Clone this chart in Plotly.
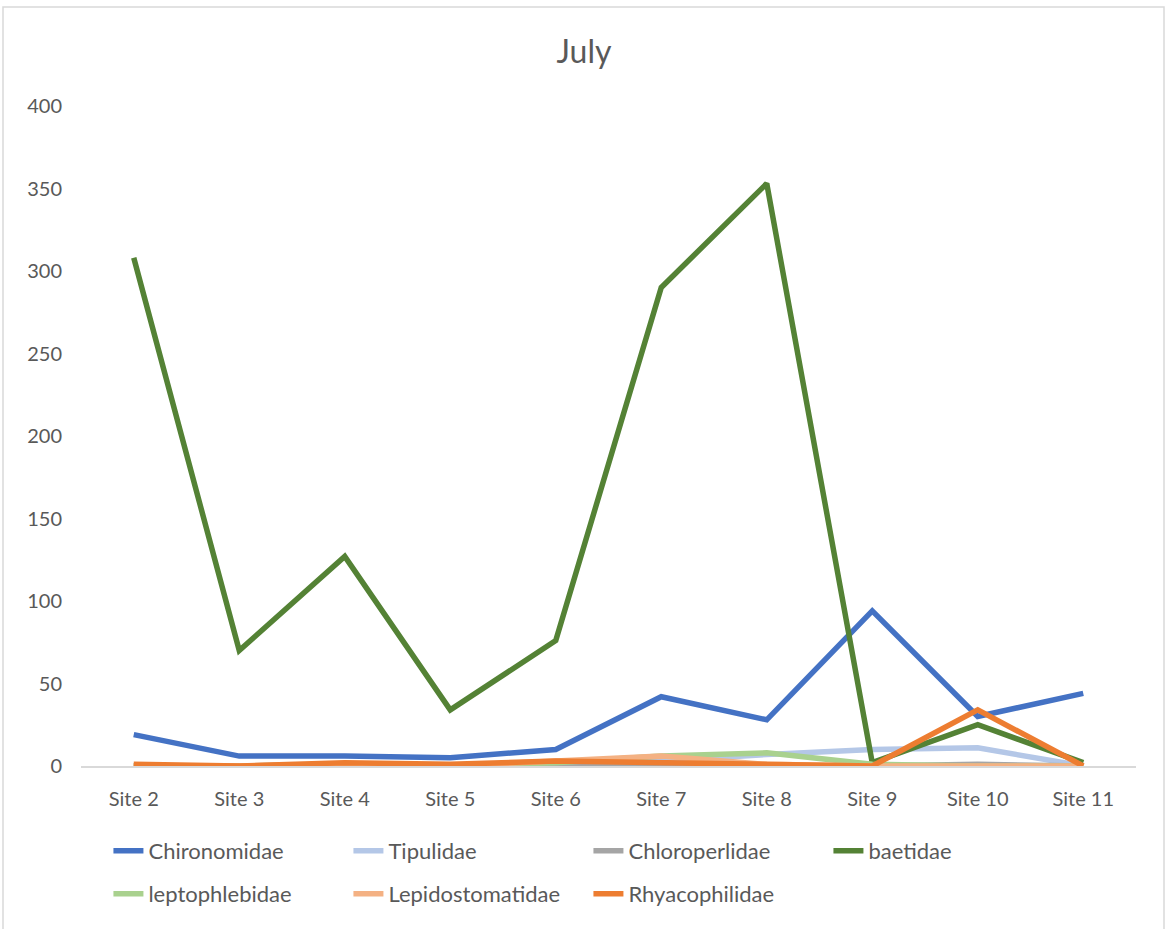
import plotly.graph_objects as go

sites = ["Site 2", "Site 3", "Site 4", "Site 5", "Site 6", "Site 7", "Site 8", "Site 9", "Site 10", "Site 11"]

chironomidae = [19, 6, 6, 5, 10, 42, 28, 94, 30, 44]
tipulidae = [0, 0, 1, 0, 1, 3, 7, 10, 11, 0]
chloroperlidae = [0, 0, 0, 0, 0, 0, 0, 0, 1, 0]
baetidae = [308, 70, 127, 34, 76, 290, 353, 2, 25, 2]
leptophlebidae = [0, 0, 1, 0, 2, 6, 8, 1, 0, 0]
lepidostomatidae = [0, 0, 1, 0, 3, 6, 1, 0, 0, 0]
rhyacophilidae = [1, 0, 2, 1, 3, 2, 1, 0, 34, 0]

series = [
    ("Chironomidae", chironomidae, "#4472C4", "legend"),
    ("Tipulidae", tipulidae, "#B4C7E7", "legend"),
    ("Chloroperlidae", chloroperlidae, "#A5A5A5", "legend"),
    ("baetidae", baetidae, "#548235", "legend"),
    ("leptophlebidae", leptophlebidae, "#A9D18E", "legend2"),
    ("Lepidostomatidae", lepidostomatidae, "#F4B183", "legend2"),
    ("Rhyacophilidae", rhyacophilidae, "#ED7D31", "legend2"),
]

fig = go.Figure()
for name, vals, col, lg in series:
    fig.add_trace(go.Scatter(x=sites, y=vals, name=name, mode="lines", legend=lg,
                             line=dict(color=col, width=5.5)))

font = "Lato, Open Sans, sans-serif"
leg_common = dict(orientation="h", x=0.026, xanchor="left", yanchor="middle",
                  entrywidth=195, entrywidthmode="pixels",
                  font=dict(family=font, size=22, color="#595959"),
                  traceorder="normal", bgcolor="rgba(0,0,0,0)")
fig.update_layout(
    width=1168, height=929,
    margin=dict(l=81, r=32, t=106, b=163),
    paper_bgcolor="white", plot_bgcolor="white",
    font=dict(family=font, size=20, color="#595959"),
    title=dict(text="July", x=0.5, xanchor="center", y=0.944, yanchor="middle",
               font=dict(family=font, size=32, color="#595959")),
    xaxis=dict(range=[-0.5, 9.5], showgrid=False, showline=True, linecolor="#D9D9D9",
               linewidth=1.5, ticks="", ticklabelstandoff=14,
               tickfont=dict(size=20, color="#595959"), zeroline=False),
    yaxis=dict(range=[0, 400], dtick=50, showgrid=False, showline=False, zeroline=False,
               ticks="", ticklabelstandoff=18, tickfont=dict(size=20, color="#595959")),
    legend=dict(y=(766 - 851) / 660, **leg_common),
    legend2=dict(y=(766 - 894) / 660, **leg_common),
    shapes=[dict(type="rect", xref="paper", yref="paper",
                 x0=(3 - 81) / 1055, x1=(1164 - 81) / 1055,
                 y0=(766 - 960) / 660, y1=(766 - 7) / 660,
                 line=dict(color="#D9D9D9", width=1.5), fillcolor="rgba(0,0,0,0)",
                 layer="below")],
)

fig.write_html("out.html")
